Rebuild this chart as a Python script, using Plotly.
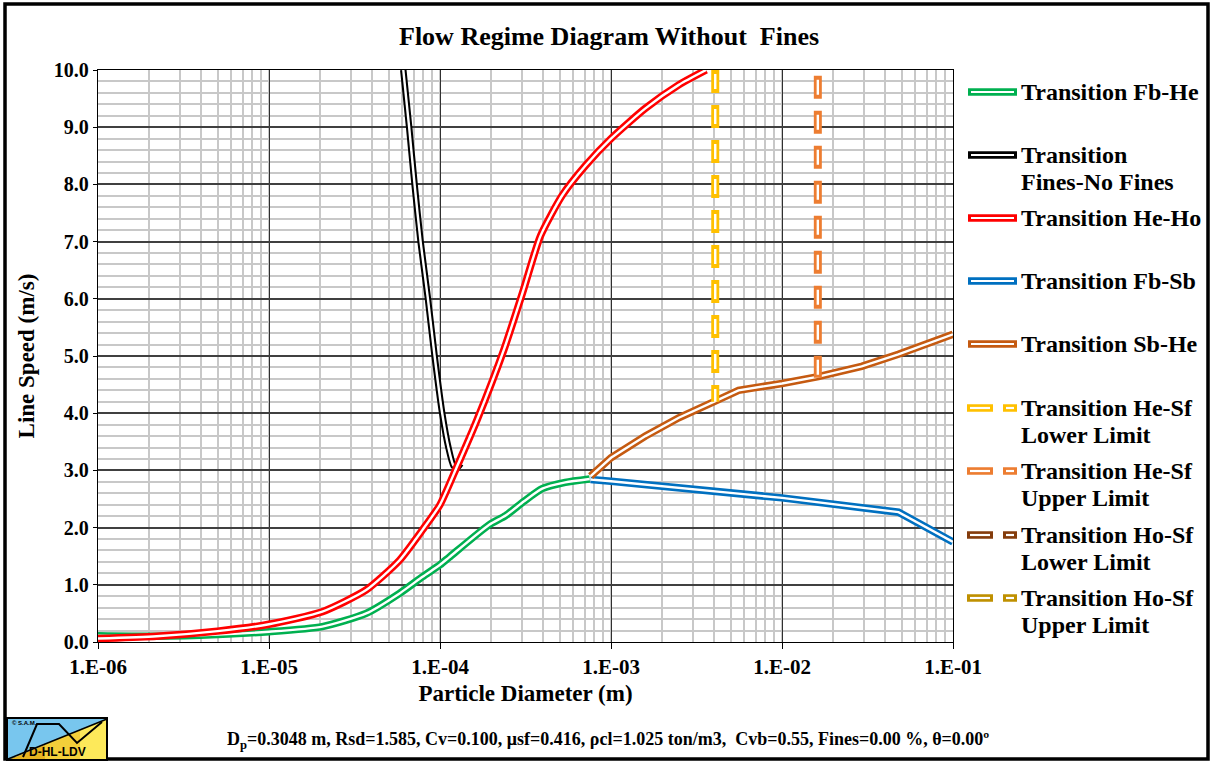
import plotly.graph_objects as go

# ---- values ----
fb_he_x = [1e-6, 2.2e-6, 5e-6, 1e-5, 2.05e-5, 3.7e-5, 5.8e-5, 7.9e-5, 1e-4, 1.13e-4,
           1.94e-4, 2.42e-4, 3.1e-4, 3.96e-4, 5.4e-4, 7.5e-4]
fb_he_y = [0.11, 0.10, 0.13, 0.18, 0.27, 0.50, 0.85, 1.14, 1.35, 1.48,
           2.05, 2.21, 2.46, 2.68, 2.79, 2.85]

fines_x = [6.1e-5, 6.6e-5, 7.1e-5, 7.7e-5, 8.5e-5, 9.3e-5, 1.03e-4, 1.12e-4, 1.2e-4, 1.26e-4, 1.32e-4]
fines_y = [10.0, 9.0, 8.0, 7.0, 6.0, 5.0, 4.0, 3.4, 3.08, 3.05, 3.12]

he_ho_x = [1e-6, 2.2e-6, 5e-6, 1e-5, 2.05e-5, 3.7e-5, 5.8e-5, 7.9e-5, 1e-4, 1.25e-4,
           1.65e-4, 2.37e-4, 3.05e-4, 3.87e-4, 5.19e-4, 7.1e-4, 1e-3,
           1.59e-3, 2.49e-3, 3.6e-3]
he_ho_y = [0.06, 0.10, 0.19, 0.31, 0.53, 0.91, 1.43, 1.96, 2.40, 3.05,
           3.89, 5.12, 6.12, 7.10, 7.81, 8.33, 8.80,
           9.33, 9.74, 10.0]

fb_sb_x = [7.6e-4, 1e-3, 1e-2, 4.8e-2, 1e-1]
fb_sb_y = [2.84, 2.81, 2.52, 2.27, 1.75]

sb_he_x = [7.6e-4, 1e-3, 1.59e-3, 2.49e-3, 4.07e-3, 5.57e-3, 1e-2, 1.63e-2, 2.92e-2, 4.79e-2, 1e-1]
sb_he_y = [2.90, 3.22, 3.60, 3.92, 4.21, 4.40, 4.52, 4.64, 4.82, 5.03, 5.38]

he_sf_low_x = [4.07e-3, 4.07e-3]
he_sf_low_y = [10.0, 4.2]
he_sf_up_x = [1.62e-2, 1.62e-2]
he_sf_up_y = [9.9, 4.62]

x_tick_vals = [1e-6, 1e-5, 1e-4, 1e-3, 1e-2, 1e-1]
x_tick_text = ["1.E-06", "1.E-05", "1.E-04", "1.E-03", "1.E-02", "1.E-01"]

legend_items = [
    (["Transition Fb-He"], "#00b050", False),
    (["Transition", "Fines-No Fines"], "#000000", False),
    (["Transition He-Ho"], "#ff0000", False),
    (["Transition Fb-Sb"], "#0070c0", False),
    (["Transition Sb-He"], "#c55a11", False),
    (["Transition He-Sf", "Lower Limit"], "#ffc000", True),
    (["Transition He-Sf", "Upper Limit"], "#ed7d31", True),
    (["Transition Ho-Sf", "Lower Limit"], "#843c0c", True),
    (["Transition Ho-Sf", "Upper Limit"], "#bf9000", True),
]
legend_rows = [92, 155, 218, 281, 344, 408, 471, 535, 598]

FONT = "Liberation Serif"
W, H = 1211, 762
L, R, T, B = 98, 953, 70, 642


def px(x):
    return (x - L) / (R - L)


def py(y):
    return (B - y) / (B - T)


fig = go.Figure()


def double_line(x, y, color, width=7.5, inner=2.4, shape="linear", dash=None, inner_dash=None):
    fig.add_trace(go.Scatter(x=x, y=y, mode="lines", showlegend=False, hoverinfo="skip",
                             line=dict(color=color, width=width, shape=shape, smoothing=0.6, dash=dash)))
    fig.add_trace(go.Scatter(x=x, y=y, mode="lines", showlegend=False, hoverinfo="skip",
                             line=dict(color="white", width=inner, shape=shape, smoothing=0.6, dash=inner_dash)))


double_line(fb_he_x, fb_he_y, "#00b050", shape="spline")
double_line(fines_x, fines_y, "#000000", width=6.5, shape="spline")
double_line(he_ho_x, he_ho_y, "#ff0000", shape="spline")
double_line(fb_sb_x, fb_sb_y, "#0070c0")
double_line(sb_he_x, sb_he_y, "#c55a11")
double_line(he_sf_low_x, he_sf_low_y, "#ffc000", width=8, dash="23px,12px", inner_dash="0px,4px,15px,16px")
double_line(he_sf_up_x, he_sf_up_y, "#ed7d31", width=8, dash="23px,12px", inner_dash="0px,4px,15px,16px")

shapes = []
annotations = []


def label(x, y, text, size, family=FONT, xanchor="center", bold=True):
    annotations.append(dict(xref="paper", yref="paper", x=px(x), y=py(y), xanchor=xanchor, yanchor="middle",
                            text=text, showarrow=False,
                            font=dict(family=family, size=size, color="black", weight="bold" if bold else "normal")))


# outer frame
shapes.append(dict(type="rect", xref="paper", yref="paper", x0=px(5), x1=px(1208), y0=py(759), y1=py(4),
                   line=dict(color="black", width=3.5), layer="above"))

# legend
for (lines, color, dashed), row in zip(legend_items, legend_rows):
    segs = [(967, 993), (1003, 1017)] if dashed else [(968, 1017)]
    for a, b in segs:
        shapes.append(dict(type="line", xref="paper", yref="paper", x0=px(a), x1=px(b), y0=py(row), y1=py(row),
                           line=dict(color=color, width=7.5)))
        shapes.append(dict(type="line", xref="paper", yref="paper", x0=px(a + 3), x1=px(b - 3), y0=py(row), y1=py(row),
                           line=dict(color="white", width=2.2)))
    for k, text in enumerate(lines):
        label(1019, row + 27 * k, text, 24, xanchor="left")

# logo bottom-left
shapes.append(dict(type="path", xref="paper", yref="paper",
                   path=f"M {px(8)},{py(719)} L {px(107)},{py(719)} L {px(8)},{py(760)} Z",
                   fillcolor="#78c6ee", line=dict(width=0)))
shapes.append(dict(type="path", xref="paper", yref="paper",
                   path=f"M {px(107)},{py(719)} L {px(107)},{py(760)} L {px(8)},{py(760)} Z",
                   fillcolor="#e6b420", line=dict(width=0)))
shapes.append(dict(type="path", xref="paper", yref="paper",
                   path=f"M {px(45)},{py(744)} L {px(107)},{py(719)} L {px(107)},{py(760)} L {px(45)},{py(760)} Z",
                   fillcolor="#f3cf3a", line=dict(width=0)))
shapes.append(dict(type="path", xref="paper", yref="paper",
                   path=f"M {px(80)},{py(730)} L {px(107)},{py(719)} L {px(107)},{py(760)} L {px(80)},{py(760)} Z",
                   fillcolor="#fde95a", line=dict(width=0)))
shapes.append(dict(type="line", xref="paper", yref="paper", x0=px(8), y0=py(759), x1=px(107), y1=py(719),
                   line=dict(color="black", width=1.5)))
shapes.append(dict(type="path", xref="paper", yref="paper",
                   path=f"M {px(23)},{py(757)} L {px(37)},{py(724)} L {px(59)},{py(724)} L {px(77)},{py(743)} L {px(102)},{py(722)}",
                   line=dict(color="black", width=2)))
shapes.append(dict(type="rect", xref="paper", yref="paper", x0=px(7), x1=px(107), y0=py(760), y1=py(718),
                   line=dict(color="black", width=2)))
label(57, 752, "D-HL-LDV", 12, family="Liberation Sans")
label(10, 723, "© S.A.M.", 6, family="Liberation Sans", xanchor="left")

# title and footer
label(609, 37, "Flow Regime Diagram Without\u00a0 Fines", 26)
label(608, 740, "D<sub>p</sub>=0.3048 m, Rsd=1.585, Cv=0.100, μsf=0.416, ρcl=1.025 ton/m3,\u00a0 Cvb=0.55, "
                "Fines=0.00 %, θ=0.00º", 18)

fig.update_layout(
    width=W, height=H,
    margin=dict(l=L, r=W - R, t=T, b=H - B),
    paper_bgcolor="white", plot_bgcolor="white",
    showlegend=False,
    shapes=shapes, annotations=annotations,
    font=dict(family=FONT, color="black"),
)
fig.update_xaxes(
    type="log", range=[-6, -1], tickvals=x_tick_vals, ticktext=x_tick_text,
    showgrid=True, gridcolor="#303030", gridwidth=1.3,
    minor=dict(dtick="D1", showgrid=True, gridcolor="#c8c8c8", gridwidth=1.6),
    showline=True, linecolor="black", linewidth=1.3, mirror=True,
    ticks="outside", ticklen=6, tickcolor="black",
    tickfont=dict(family=FONT, size=21, weight="bold"),
    title=dict(text="Particle Diameter (m)", font=dict(family=FONT, size=23, weight="bold"), standoff=6),
    zeroline=False,
)
fig.update_yaxes(
    range=[0, 10], dtick=1, tickformat=".1f",
    showgrid=True, gridcolor="#404040", gridwidth=1.5,
    minor=dict(dtick=0.2, showgrid=True, gridcolor="#c8c8c8", gridwidth=1.6),
    showline=True, linecolor="black", linewidth=1.3, mirror=True,
    ticks="outside", ticklen=4, tickcolor="black",
    tickfont=dict(family=FONT, size=20, weight="bold"),
    title=dict(text="Line Speed (m/s)", font=dict(family=FONT, size=23, weight="bold"), standoff=12),
    zeroline=False,
)

# the page's default 8px body margin would shift the whole figure
fig.write_html("out.html", config={"displayModeBar": False},
               post_script="document.body.style.margin='0';")
